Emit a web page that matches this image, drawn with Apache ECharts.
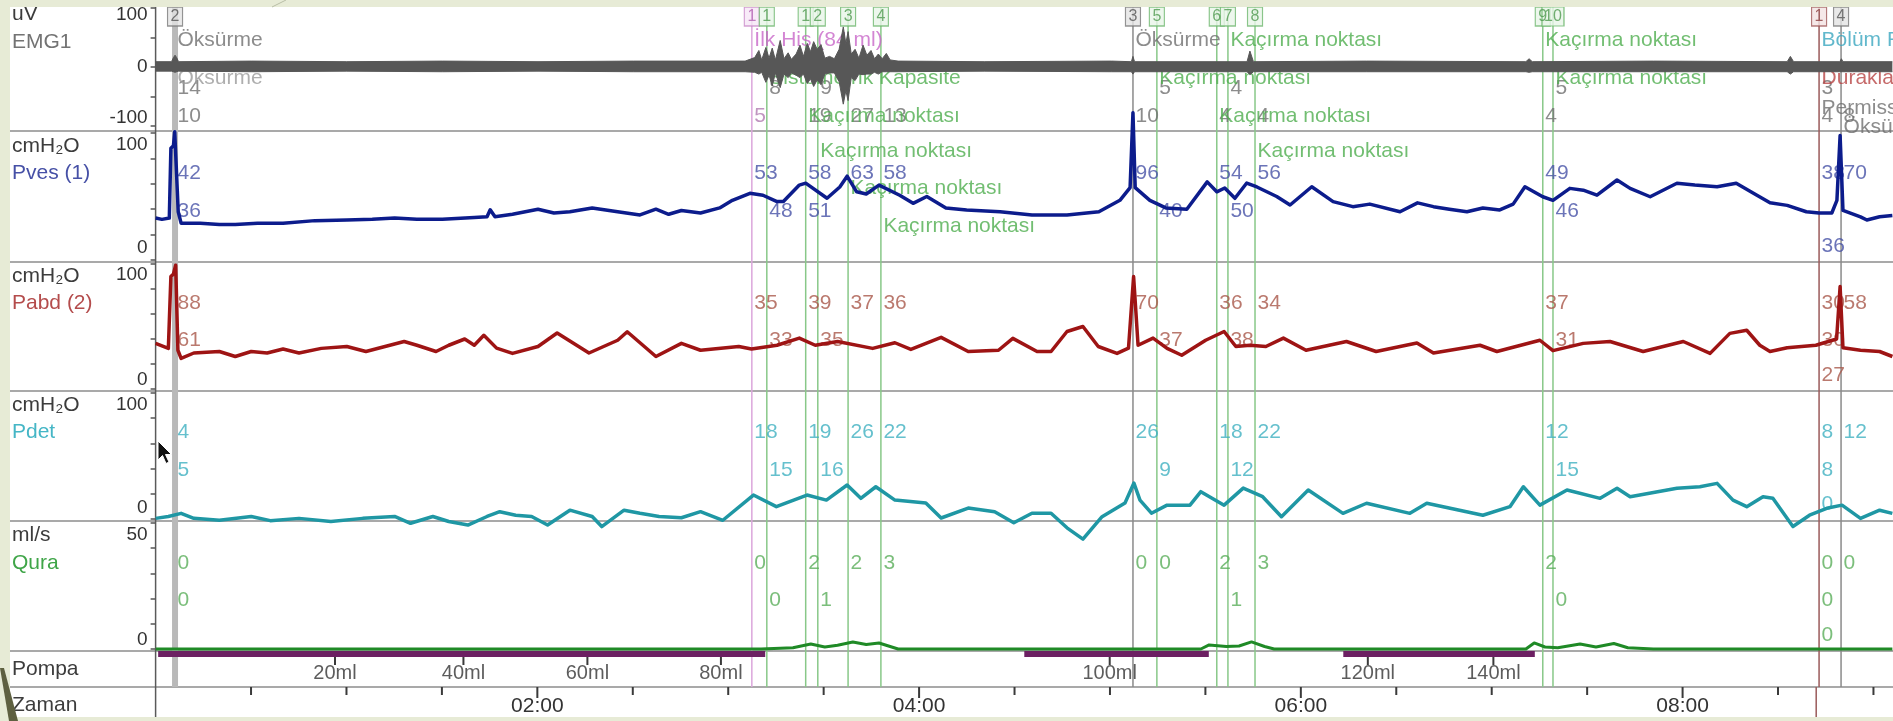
<!DOCTYPE html>
<html><head><meta charset="utf-8">
<script src="https://cdn.jsdelivr.net/npm/echarts@6/dist/echarts.min.js"></script>
<style>html,body{margin:0;padding:0;background:#e7ebd6;overflow:hidden}#c{width:1893px;height:721px}</style>
</head><body><div id="c"></div>
<script>
// ---------------- DATA ----------------
const T_MAX = 545.2; // seconds shown on time axis
// event markers
const evT   = [6.1,187.1,191.8,204.0,207.8,217.3,227.6,306.7,314.2,333.0,336.5,345.0,435.3,438.5,522.0,528.9];
const evNum = ['2','1','1','1','2','3','4','3','5','6','7','8','9','10','1','4'];
const evKind= ['cursor','fill','leak','leak','leak','leak','leak','cough','leak','leak','leak','leak','leak','leak','stop','cough'];

// EMG envelope (uV)
const emgT  = [0,5,5.6,6.1,6.6,7.2,30,60,90,120,150,185,188,189.3,190.2,191.5,192.5,193.5,194.5,196,197.2,198.5,199.5,201,202.2,203.3,204.5,205.5,206.5,207.6,208.8,210,211.5,213,214.5,215.8,216.6,217.3,218.3,219.5,220.7,222,223.2,224.5,225.6,226.8,228,229.3,230.5,233,260,300,306.2,306.7,307.2,342.5,343.4,344.5,380,430,431,432,470,512,513,514,528.5,529,529.5,545];
const emgHi = [9,9,16,20,16,9,10,9,10,9,10,10,16,28,12,33,15,32,12,45,14,24,13,22,37,18,40,26,43,30,38,15,18,14,30,68,40,60,22,30,15,37,20,28,14,22,14,23,12,10,9,10,9,18,9,9,27,9,10,9,14,9,10,9,18,9,9,14,9,9];
const emgLo = [-7,-7,-8,-9,-8,-7,-8,-7,-8,-7,-8,-8,-9,-12,-9,-26,-14,-32,-10,-35,-12,-18,-10,-14,-18,-12,-28,-20,-33,-22,-30,-12,-10,-10,-25,-63,-40,-57,-18,-23,-12,-13,-12,-12,-9,-12,-8,-8,-8,-8,-7,-8,-8,-12,-8,-8,-13,-8,-8,-8,-9,-8,-8,-8,-12,-8,-8,-10,-8,-8];

// Pves (cmH2O)
const pvesT = [0,2,4.3,4.8,5.6,6.0,6.6,7.1,8,14,20,25,32,40,50,60,68,75,82,90,100,104,105,106.5,112,120,125,130,137,145,152,157,161,165,171,177,181,186.5,190.6,195,197,202,204,210.7,214.7,217,220,223,227,233.5,237.7,242,248,254.5,265,275,286,296,302.6,305.8,306.7,307.4,312,317,323.6,330,333,335.5,338.7,342.4,345.6,351.8,356,362.8,369.5,375.7,381,390.5,396,401,406,411.5,416.5,421.8,426,429.7,435.3,438.5,443.8,448,452.3,458.6,462.7,469,477.4,483,490,496,502.5,506.6,512,518,522,526,527.6,528.6,529.5,535,537,541,545];
const pvesV = [33,32,33,88,90,101,101,38,29,29,28,28,29,29,31,31.5,32,33,32,32,33.5,34,39.5,34,36,40,37,38,41,38,35.5,40,36,39,37,41,47,52.5,51,46,46,59,60.5,48.6,57.5,66,53.7,52,59,51,44.6,50,41,39.4,38,35.4,35.4,38,47,57,116,57,47,41,40,61.5,53.7,56.7,48.6,60.6,57.5,50,43.3,57.7,46,42,44,38,45,42,40,38,41,39.4,44,57.7,49.8,47,56.4,55,51,63,56.4,49.8,60.4,59,57.7,60.4,51,45,43,38,37,37,47,98,39,34,31.5,34,35];

// Pabd (cmH2O)
const pabdT = [0,4,4.8,5.6,6.3,7,8,12,20,25,30,35,40,45,52,60,66,72,78,82,88,92,97,100,103,107,112,120,126,136,145,148,157,165,171,183,187,195,202,207,214,225,232,237,246.5,255,264.5,269,276.6,281,286,291,295.8,301.7,305.3,306.9,308.3,313,317.4,322,329.5,335.3,339,343.4,348.4,353.9,361,373.7,383,395.8,401,415.6,420.9,434.4,438.5,448,456.4,466.8,479.4,487.8,494,499.3,503.4,506.6,512,521,527.5,528.6,529.5,535,541,545];
const pabdV = [36.5,32.5,90,92,99,31,24.5,28.8,30,26,30,28.8,32,28.8,32.5,34,30,34,38,35,30,35,40,35,43,32.7,28.5,34,44.8,28.8,39,45.8,26,36.5,31,34,32,35,40.7,35,38,32.5,37,31.7,41.3,30,31,40.5,30,30,46,50,34,28.5,32.7,90,35,40.7,32.5,27,39,46,34,35,34,40.7,31,38,30,36.8,28.8,35,30,39,30.7,36.5,38,30,38,28.5,44.5,47,35,30,33,35,40,82,33,31,30,26];

// Pdet (cmH2O)
const pdetT = [0,4,8,12,20,30,36,45,55,65,75,80,87,92,98,104,108,113,118,123,130,137,140,147,152,158,165,171,178,187.6,194.8,204.4,210.5,217,221.3,226,232,241.7,246.5,255,263.3,269.3,275,281,286,291,297,304.2,307,308.9,312.5,317.4,324.6,328,335.3,341.3,347.4,353.3,361.7,372.6,380,393.6,398.9,416.5,425,429.2,434.4,442.9,453.3,458.6,462.7,477.4,484.6,490,495,499.3,504.4,507.5,513.8,519,524.4,529.2,535,541,545];
const pdetV = [0.5,2,4.5,0.5,-1,2,-1.3,0.5,-2,0.5,2,-3.4,2,-2,-4.8,2,5.8,3,2,-4.8,7,2,-6,7,4.5,2,1,5.8,-1,19,9.8,19,15,27,16.4,25.6,15,12.7,0.8,8.7,5.8,-3,4.6,4.6,-7,-16,1.8,12.7,28.5,15,4.6,11,11,21.7,11,24.5,17.7,1.8,23,4.5,12.5,4.5,12.5,3,9.8,25.6,11,23,16.4,24.4,17.7,24.4,25.6,28.3,15,9.8,17.7,16.4,-6,3,8.5,11,0.5,7,4.5];

// Qura (ml/s)
const quraT = [0,190,200,205.6,210,214,218.8,223,227,233,328,330.6,336,340,343.9,348,351,430,432.6,436,440,447,452,457.6,462,470,545];
const quraV = [0,0,0.5,2,0.8,1.5,2.8,1.8,2.4,0,0,1.6,1,1.2,2.8,1,0,0,2.4,0.8,0.5,2,0.8,2.2,0.5,0,0];

// Pump
const pumpOnStart = [0.8, 272.6, 372.7];
const pumpOnEnd   = [191.3, 330.5, 432.8];
const pumpVolLabels = ['20ml','40ml','60ml','80ml','100ml','120ml','140ml'];
const pumpVolT      = [56.3, 96.6, 135.5, 177.4, 299.4, 380.4, 419.8];
// time axis ticks (s)
const timeTickStep = 30;

// Annotations: [event index, row, text, colour key]
const emgNotes = [
 [0,'e1','Öksürme','grey'],[0,'e2','Öksürme','greyL'],[0,'e3','14','grey'],[0,'e5','10','grey'],
 [1,'e1','İlk His (84 ml)','pink'],[1,'e5','5','pinkL'],
 [2,'e2','Sistometrik Kapasite','green'],[2,'e3','8','grey'],
 [3,'e5','Kaçırma noktası','green'],[3,'e5','19','grey'],[4,'e3','9','grey'],
 [5,'e5','27','grey'],[6,'e5','13','grey'],
 [7,'e1','Öksürme','grey'],[7,'e5','10','grey'],
 [8,'e2','Kaçırma noktası','green'],[8,'e3','5','grey'],
 [9,'e5','Kaçırma noktası','green'],[9,'e5','4','grey'],
 [10,'e1','Kaçırma noktası','green'],[10,'e3','4','grey'],[11,'e5','4','grey'],
 [12,'e1','Kaçırma noktası','green'],[12,'e5','4','grey'],
 [13,'e2','Kaçırma noktası','green'],[13,'e3','5','grey'],
 [14,'e1','Bölüm Raporu','teal'],[14,'e2','Duraklat','brown'],[14,'e3','3','grey'],
 [14,'e4','Permission to void','grey'],[14,'e5','4','grey'],[15,'e5','8','grey'],[15,'ok','Öksürme','grey']
];
const pvesNotes = [
 [0,'v1','42','pves'],[0,'v2','36','pves'],[1,'v1','53','pves'],[2,'v2','48','pves'],
 [3,'v1','58','pves'],[3,'v2','51','pves'],[4,'vk1','Kaçırma noktası','green'],
 [5,'v1','63','pves'],[5,'vk2','Kaçırma noktası','green'],[6,'v1','58','pves'],[6,'vk3','Kaçırma noktası','green'],
 [7,'v1','96','pves'],[8,'v2','40','pves'],[9,'v1','54','pves'],[10,'v2','50','pves'],
 [11,'v1','56','pves'],[11,'vk1','Kaçırma noktası','green'],[12,'v1','49','pves'],[13,'v2','46','pves'],
 [14,'v1','38','pves'],[14,'v3','36','pves'],[15,'v1','70','pves']
];
const pabdNotes = [
 [0,'a1','88'],[0,'a2','61'],[1,'a1','35'],[2,'a2','33'],[3,'a1','39'],[4,'a2','35'],
 [5,'a1','37'],[6,'a1','36'],[7,'a1','70'],[8,'a2','37'],[9,'a1','36'],[10,'a2','38'],
 [11,'a1','34'],[12,'a1','37'],[13,'a2','31'],[14,'a1','30'],[14,'a2','30'],[14,'a3','27'],[15,'a1','58']
];
const pdetNotes = [
 [0,'d1','4'],[0,'d2','5'],[1,'d1','18'],[2,'d2','15'],[3,'d1','19'],[4,'d2','16'],
 [5,'d1','26'],[6,'d1','22'],[7,'d1','26'],[8,'d2','9'],[9,'d1','18'],[10,'d2','12'],
 [11,'d1','22'],[12,'d1','12'],[13,'d2','15'],[14,'d1','8'],[14,'d2','8'],[14,'d3','0'],[15,'d1','12']
];
const quraNotes = [
 [0,'q1','0'],[0,'q2','0'],[1,'q1','0'],[2,'q2','0'],[3,'q1','2'],[4,'q2','1'],
 [5,'q1','2'],[6,'q1','3'],[7,'q1','0'],[8,'q1','0'],[9,'q1','2'],[10,'q2','1'],
 [11,'q1','3'],[12,'q1','2'],[13,'q2','0'],[14,'q1','0'],[14,'q2','0'],[14,'q3','0'],[15,'q1','0']
];

// ---------------- LAYOUT / STYLE ----------------
const FONT = '"Liberation Sans", Arial, sans-serif';
const L = 155.6;
const panels = [
 {top:8,   bottom:126, min:-100, max:100, interval:50, zero:true, pt:14, pb:16},
 {top:133, bottom:260, min:0, max:100, interval:20, pt:24, pb:24},
 {top:264, bottom:389, min:0, max:100, interval:20, pt:22, pb:18},
 {top:393, bottom:519, min:0, max:100, interval:20, pt:24, pb:22},
 {top:523, bottom:649, min:0, max:50,  interval:10, pt:24, pb:18}
];
const POMPA = {top:651, bottom:687};
const ZAMAN = {top:687, bottom:721};
const OVER  = {top:7, bottom:687};
const ROWY = {e1:40,e2:78,e3:88,e4:108,e5:116,ok:127,
  v1:173,vk1:151,vk2:188,vk3:226,v2:211,v3:246,
  a1:303,a2:340,a3:375,d1:432,d2:470,d3:504,q1:563,q2:600,q3:635};
const noteColor = {grey:'#6f6f6f',greyL:'#9a9a9a',pink:'#c866c8',pinkL:'#b07ab0',green:'#4fae4f',teal:'#3aa6bf',brown:'#b84545',
  pves:'#4651a6',pabd:'#a9584a',pdet:'#3fb0c0',qura:'#5aae5a'};
const kindStyle = {
  cursor:{color:'#b9b9b9',width:6}, cough:{color:'#8a8a8a',width:1.5}, fill:{color:'#dba6db',width:1.5},
  leak:{color:'#88c888',width:1.5}, stop:{color:'#9a5a5a',width:1.5}};
const boxStyle = {
  cursor:{fill:'#e4e4e4',border:'#7a7a7a',text:'#555'}, cough:{fill:'#e4e4e4',border:'#7a7a7a',text:'#555'},
  fill:{fill:'#f6e6f6',border:'#c98bc9',text:'#b060b0'}, leak:{fill:'#e8f5e8',border:'#6fb86f',text:'#4f9a4f'},
  stop:{fill:'#f2e2e2',border:'#a05a5a',text:'#8a3c3c'}};

const zip = (ts, vs) => ts.map((t, i) => [t, vs[i]]);
const overV = y => (OVER.bottom - y) / (OVER.bottom - OVER.top);
const pompaV = y => (POMPA.bottom - y) / (POMPA.bottom - POMPA.top);
const zamanV = y => (ZAMAN.bottom - y) / (ZAMAN.bottom - ZAMAN.top);

const grids = panels.map(p => ({left:L, right:0, top:p.top, height:p.bottom - p.top}));
grids.push({left:L, right:0, top:POMPA.top, height:POMPA.bottom - POMPA.top});
grids.push({left:L, right:0, top:ZAMAN.top, height:ZAMAN.bottom - ZAMAN.top});
grids.push({left:L, right:0, top:OVER.top, height:OVER.bottom - OVER.top});

const fmtTime = v => { if (v <= 0 || Math.abs(v % 120) > 0.01) return ''; const m = v/60; return (m < 10 ? '0' : '') + m + ':00'; };

const xAxes = grids.map((g, i) => {
  if (i === 6) return {gridIndex:6, type:'value', min:0, max:T_MAX, interval:timeTickStep, position:'top', z:5,
    axisLine:{show:false}, splitLine:{show:false}, axisTick:{show:false},
    axisLabel:{inside:true, margin:9, fontSize:21, fontFamily:FONT, color:'#333', formatter:fmtTime}};
  return {gridIndex:i, type:'value', min:0, max:T_MAX, show:false};
});
const yAxes = panels.map((p, i) => ({
  gridIndex:i, type:'value', min:p.min, max:p.max, interval:p.interval, z:5,
  axisLine:{show:false}, splitLine:{show:false},
  axisTick:{show:true, length:5, lineStyle:{color:'#555', width:1.5}},
  axisLabel:{margin:8, fontSize:19, fontFamily:FONT, color:'#333',
    formatter: v => v === p.max ? '{t|' + v + '}' : v === p.min ? '{b|' + v + '}' : (p.zero && v === 0 ? '{m|0}' : ''),
    rich:{t:{fontSize:19, fontFamily:FONT, color:'#333', padding:[p.pt,0,0,0]},
          b:{fontSize:19, fontFamily:FONT, color:'#333', padding:[0,0,p.pb,0]},
          m:{fontSize:19, fontFamily:FONT, color:'#333'}}}
}));
[5,6,7].forEach(i => yAxes.push({gridIndex:i, type:'value', min:0, max:1, show:false}));

const series = [];
const lineS = (gi, data, color, width, z, extra) => Object.assign({type:'line', xAxisIndex:gi, yAxisIndex:gi, data,
  symbol:'none', silent:true, clip:false, z, lineStyle:{color, width, join:'round'}}, extra || {});

// event lines
evT.forEach((t, i) => {
  const st = kindStyle[evKind[i]];
  series.push(lineS(7, [[t,0],[t,1]], st.color, st.width, 1));
  if (evKind[i] === 'stop') series.push(lineS(6, [[t,0],[t,1]], st.color, st.width, 1));
});
// EMG band (drawn over the annotation texts, as in the recording)
series.push(lineS(0, zip(emgT, emgHi), '#575757', 1, 4.5, {areaStyle:{color:'#575757', opacity:1}}));
series.push(lineS(0, zip(emgT, emgLo), '#575757', 1, 4.5, {areaStyle:{color:'#575757', opacity:1}}));
// pressure traces
series.push(lineS(1, zip(pvesT, pvesV), '#0c1c8c', 3.5, 4.5));
series.push(lineS(2, zip(pabdT, pabdV), '#9e1414', 3.5, 4.5));
series.push(lineS(3, zip(pdetT, pdetV), '#1f97a4', 3.5, 4.5));
// pump bars
pumpOnStart.forEach((s, i) => series.push(lineS(5, [[s, pompaV(654)], [pumpOnEnd[i], pompaV(654)]], '#6c2062', 6, 2)));
// Qura
series.push(lineS(4, zip(quraT, quraV), '#1f8a26', 3, 3));
// pump volume ticks and labels
series.push({type:'scatter', xAxisIndex:5, yAxisIndex:5, silent:true, z:6, symbol:'rect', symbolSize:[2,8], clip:false,
  itemStyle:{color:'#3a3a3a', opacity:1}, data: pumpVolT.map(t => [t, pompaV(661)])});
series.push({type:'scatter', xAxisIndex:5, yAxisIndex:5, silent:true, z:4, symbolSize:1,
  itemStyle:{color:'rgba(0,0,0,0)'}, data: pumpVolT.map((t, i) => [t, pompaV(673.5), pumpVolLabels[i]]),
  label:{show:true, position:'inside', formatter:p => p.value[2], fontSize:20, fontFamily:FONT, color:'#333'}});
// time axis ticks drawn as small marks through the time scale
const timeTicks = [];
for (let t = timeTickStep; t < T_MAX; t += timeTickStep) timeTicks.push(t);
series.push({type:'scatter', xAxisIndex:6, yAxisIndex:6, silent:true, z:6, symbol:'rect', clip:false,
  symbolSize: v => [2, v[0] % 120 === 0 ? 11 : 8], itemStyle:{color:'#3a3a3a', opacity:1},
  data: timeTicks.map(t => [t, zamanV(t % 120 === 0 ? 692.5 : 691)])});
// notes
function addNotes(notes, defColor) {
  const groups = {};
  notes.forEach(n => { const c = n[3] || defColor; (groups[c] = groups[c] || []).push([evT[n[0]], overV(ROWY[n[1]]), n[2]]); });
  Object.keys(groups).forEach(c => series.push({type:'scatter', xAxisIndex:7, yAxisIndex:7, silent:true, z:4,
    symbolSize:1, itemStyle:{color:'rgba(0,0,0,0)'}, data:groups[c],
    label:{show:true, position:'right', distance:2, formatter:p => p.value[2], fontSize:21, fontFamily:FONT, color:noteColor[c]}}));
}
addNotes(emgNotes); addNotes(pvesNotes); addNotes(pabdNotes, 'pabd'); addNotes(pdetNotes, 'pdet'); addNotes(quraNotes, 'qura');
// event number boxes
evT.forEach((t, i) => {
  const b = boxStyle[evKind[i]];
  series.push({type:'scatter', xAxisIndex:7, yAxisIndex:7, silent:true, z:5, symbol:'rect',
    symbolSize:[evNum[i].length > 1 ? 22 : 15, 19], data:[[t, overV(16.5), evNum[i]]],
    itemStyle:{color:b.fill, borderColor:b.border, borderWidth:1.3},
    label:{show:true, position:'inside', formatter:p => p.value[2], fontSize:16, fontFamily:FONT, color:b.text}});
});

// static frame graphics (page background is white; green margins drawn on top)
const GREEN = '#e7ebd6';
const gfx = [];
gfx.push({type:'rect', shape:{x:0, y:0, width:1893, height:7}, style:{fill:GREEN}, z:20, silent:true});
gfx.push({type:'rect', shape:{x:0, y:0, width:10, height:721}, style:{fill:GREEN}, z:20, silent:true});
gfx.push({type:'rect', shape:{x:0, y:717, width:1893, height:4}, style:{fill:GREEN}, z:20, silent:true});
gfx.push({type:'line', shape:{x1:286, y1:0, x2:272, y2:7}, style:{stroke:'#b9bea6', lineWidth:1}, z:21, silent:true});
gfx.push({type:'polygon', shape:{points:[[0,668],[4,668],[18,721],[9,721]]}, style:{fill:'#5e6040'}, z:21, silent:true});
[131, 262, 391, 521, 651, 687].forEach(y => gfx.push({type:'line', shape:{x1:10, y1:y, x2:1893, y2:y},
  style:{stroke:'#8c8c8c', lineWidth:1.5}, z:1, silent:true}));
gfx.push({type:'line', shape:{x1:L, y1:7, x2:L, y2:717}, style:{stroke:'#5a5a5a', lineWidth:1.5}, z:2, silent:true});
const leftLabels = [
  ['uV',14,'#3c3c3c'],['EMG1',42,'#737373'],
  ['cmH₂O',146,'#3c3c3c'],['Pves (1)',173,'#4650a6'],
  ['cmH₂O',276,'#3c3c3c'],['Pabd (2)',303,'#b44c4c'],
  ['cmH₂O',405,'#3c3c3c'],['Pdet',432,'#45b6c6'],
  ['ml/s',535,'#3c3c3c'],['Qura',563,'#3fa548'],
  ['Pompa',669,'#3c3c3c'],['Zaman',705,'#3c3c3c']];
leftLabels.forEach(l => gfx.push({type:'text', x:12, y:l[1], z:6, silent:true,
  style:{text:l[0], fill:l[2], fontSize:21, fontFamily:FONT, verticalAlign:'middle'}}));
// mouse pointer
gfx.push({type:'polygon', z:7, silent:true, shape:{points:[[158,441],[158,460],[162.5,455.5],[166,463.5],[169,462],[165.5,454.5],[171.5,454.5]]},
  style:{fill:'#111', stroke:'#fff', lineWidth:1}});

const chart = echarts.init(document.getElementById('c'), null, {renderer:'canvas', width:1893, height:721});
chart.setOption({
  animation:false, backgroundColor:'#ffffff',
  grid:grids, xAxis:xAxes, yAxis:yAxes, series, graphic:gfx
});
</script></body></html>
